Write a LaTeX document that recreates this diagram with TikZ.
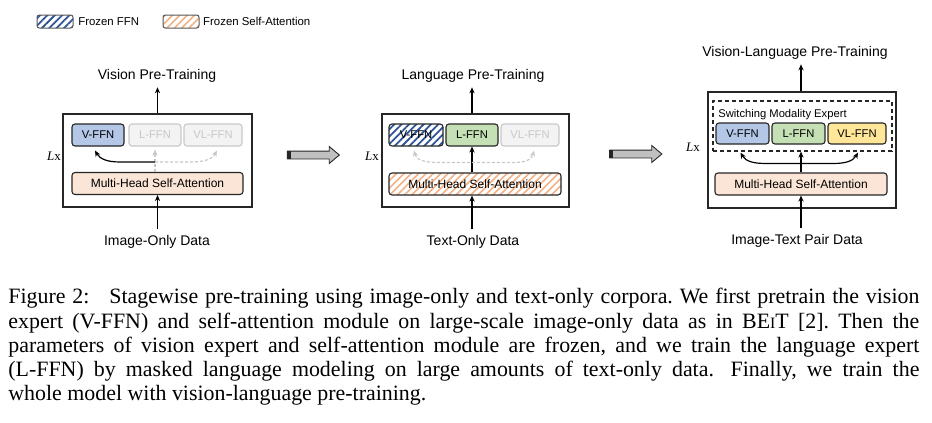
\documentclass[tikz,border=0pt]{standalone}
\usepackage{fontspec}
\setmainfont{Liberation Serif}
\setsansfont{Liberation Sans}
\usepackage{xcolor}
\usepackage{tikz}
\usetikzlibrary{positioning, calc, arrows.meta, shapes.arrows, patterns.meta}
\definecolor{vblue}{RGB}{180, 199, 231}
\definecolor{lgreen}{RGB}{197, 224, 180}
\definecolor{vlyellow}{RGB}{255, 230, 153}
\definecolor{attnpeach}{RGB}{251, 229, 214}
\definecolor{frzblue}{RGB}{47, 85, 151}
\definecolor{frzorange}{RGB}{244, 177, 131}
\definecolor{offgray}{RGB}{200, 200, 200}
\definecolor{offfill}{RGB}{243, 243, 243}
\definecolor{edgedark}{RGB}{38, 38, 38}
\definecolor{stagegray}{RGB}{192, 192, 192}
\newcommand{\capline}[1]{\makebox[455.5pt][s]{#1}}

\begin{document}
\begin{tikzpicture}[
                x=0.5pt, y=-0.5pt,
                % --- STYLES ---
                % FFN box (active)
                ffnnode/.style={
                    draw=edgedark, line width=0.55pt, rounded corners=1.5pt,
                    minimum height=11pt, inner sep=0pt,
                    font=\fontsize{5.6}{6}\selectfont\sffamily
                },
                % FFN box (not used in this stage)
                offnode/.style={
                    ffnnode, draw=offgray, fill=offfill, text=offgray
                },
                % Self-attention box
                attnnode/.style={
                    ffnnode, fill=attnpeach, font=\fontsize{6}{7}\selectfont\sffamily
                },
                % Frozen hatching
                frzffn/.style={
                    fill=white, pattern={Lines[angle=45, distance=2.6pt, line width=0.9pt]},
                    pattern color=frzblue
                },
                frzattn/.style={
                    fill=white, pattern={Lines[angle=45, distance=2.6pt, line width=0.8pt]},
                    pattern color=frzorange
                },
                legendbox/.style={
                    draw=black!65, line width=0.5pt, rounded corners=1.2pt,
                    minimum width=18pt, minimum height=6.5pt, inner sep=0pt
                },
                legtext/.style={inner sep=0pt, font=\fontsize{5.7}{6}\selectfont\sffamily},
                framebox/.style={draw=edgedark, line width=0.7pt, inner sep=0pt},
                expertbox/.style={draw=edgedark, line width=0.6pt, dash pattern=on 2pt off 1.5pt, inner sep=0pt},
                swtext/.style={inner sep=0pt, font=\fontsize{5.6}{6}\selectfont\sffamily},
                titlenode/.style={inner sep=2.5pt, font=\fontsize{7}{8}\selectfont\sffamily},
                datanode/.style={inner sep=2.5pt, font=\fontsize{7}{8}\selectfont\sffamily},
                lxnode/.style={inner sep=0pt, font=\fontsize{6.5}{7}\selectfont},
                % Arrows
                flowarrow/.style={-{Stealth[length=3pt, width=2.6pt]}, line width=0.6pt, black},
                dasharrow/.style={flowarrow, offgray, dash pattern=on 1.5pt off 1pt},
                stagearrow/.style={
                    single arrow, draw=edgedark, fill=stagegray, line width=0.45pt,
                    minimum height=26pt, minimum width=8pt, inner xsep=0pt, inner ysep=1.75pt,
                    single arrow head extend=2.25pt, single arrow tip angle=80
                },
                capnode/.style={inner sep=0pt, align=left, font=\fontsize{10.95}{12.1}\selectfont\frenchspacing}
            ]

                \useasboundingbox[fill=white] (0,0) rectangle (932,423);

                % --- LEGEND ---
                \node[legendbox, frzffn] (legFFN) at (55,21.5) {};
                \node[legtext, right=2pt of legFFN] (legFFNtext) {Frozen FFN};
                \node[legendbox, frzattn] (legAttn) at (181,21.5) {};
                \node[legtext, right=1.5pt of legAttn] (legAttntext) {Frozen Self-Attention};

                % --- STAGE 1: VISION ---
                \node[framebox, minimum width=94.5pt, minimum height=46.5pt] (frameA) at (157.5,160.5) {};
                \node[ffnnode, fill=vblue, minimum width=26pt] (vffnA) at (98,135) {V-FFN};
                \node[offnode, minimum width=26pt] (lffnA) at (155,135) {L-FFN};
                \node[offnode, minimum width=29pt] (vlffnA) at (213,135) {VL-FFN};
                \node[attnnode, minimum width=85.5pt] (mhsaA) at (157.5,183.5) {Multi-Head Self-Attention};
                \node[lxnode] (lxA) at (54,156) {\textit{L}x};
                \node[titlenode, anchor=base] (titleA) at (157,79) {Vision Pre-Training};
                \node[datanode, anchor=base] (dataA) at (157,245) {Image-Only Data};

                \draw[flowarrow] (mhsaA.north |- frameA.north) -- (mhsaA.north |- titleA.south);
                \draw[flowarrow] (dataA.north -| mhsaA) -- (mhsaA.south);
                \coordinate (forkA) at ($(lffnA.south |- mhsaA.north)+(0,-10)$);
                \draw[dasharrow] (lffnA.south |- mhsaA.north) -- ([yshift=-1.5pt]lffnA.south);
                \draw[flowarrow] (forkA) -- ++(-36,0) to[out=180, in=-60] ([xshift=-1.5pt, yshift=-2pt]vffnA.south);
                \draw[dasharrow] (forkA) -- ++(36,0) to[out=0, in=-120] ([xshift=2pt, yshift=-2pt]vlffnA.south);

                % --- STAGE 2: LANGUAGE ---
                \node[framebox, minimum width=93.5pt, minimum height=46.5pt] (frameB) at (475.5,160.5) {};
                \node[ffnnode, frzffn, minimum width=27pt] (vffnB) at (416,135) {V-FFN};
                \node[ffnnode, fill=lgreen, minimum width=26pt] (lffnB) at (472,135) {L-FFN};
                \node[offnode, minimum width=29pt] (vlffnB) at (530,135) {VL-FFN};
                \node[attnnode, frzattn, minimum width=86pt] (mhsaB) at (475,184) {Multi-Head Self-Attention};
                \node[lxnode] (lxB) at (372,156) {\textit{L}x};
                \node[titlenode, anchor=base] (titleB) at (473,79) {Language Pre-Training};
                \node[datanode, anchor=base] (dataB) at (473,245) {Text-Only Data};

                \draw[flowarrow] (lffnB.north |- frameB.north) -- (lffnB.north |- titleB.south);
                \draw[flowarrow] (dataB.north -| lffnB) -- (lffnB |- mhsaB.south);
                \draw[flowarrow] (lffnB.south |- mhsaB.north) -- (lffnB.south);
                \draw[dasharrow, {Stealth[length=3pt, width=2.6pt]}-{Stealth[length=3pt, width=2.6pt]}]
                    ([xshift=-1pt, yshift=-2pt]vffnB.south) to[out=-75, in=180] ([yshift=-8pt]lffnB.south -| vffnB.east)
                    -- ([yshift=-8pt]lffnB.south -| vlffnB.west) to[out=0, in=-105] ([xshift=2pt, yshift=-2pt]vlffnB.south);

                % --- STAGE 3: VISION-LANGUAGE ---
                \node[framebox, minimum width=94pt, minimum height=58pt] (frameC) at (802,150) {};
                \node[expertbox, minimum width=89.5pt, minimum height=25pt] (expC) at (802.5,126) {};
                \node[swtext, anchor=base west] (swC) at (718,117) {Switching Modality Expert};
                \node[ffnnode, fill=vblue, minimum width=26.5pt, minimum height=10.5pt] (vffnC) at (742.5,133.5) {V-FFN};
                \node[ffnnode, fill=lgreen, minimum width=26.5pt, minimum height=10.5pt] (lffnC) at (798.5,133.5) {L-FFN};
                \node[ffnnode, fill=vlyellow, minimum width=29pt, minimum height=10.5pt] (vlffnC) at (857,133.5) {VL-FFN};
                \node[attnnode, minimum width=86pt] (mhsaC) at (801,184) {Multi-Head Self-Attention};
                \node[lxnode] (lxC) at (693,147) {\textit{L}x};
                \node[titlenode, anchor=base] (titleC) at (795,56) {Vision-Language Pre-Training};
                \node[datanode, anchor=base] (dataC) at (797,244) {Image-Text Pair Data};

                \draw[flowarrow] (mhsaC.north |- frameC.north) -- (mhsaC.north |- titleC.south);
                \draw[flowarrow] (dataC.north -| mhsaC) -- (mhsaC.south);
                \coordinate (forkC) at ($(mhsaC.north)+(0,-9)$);
                \draw[flowarrow] (mhsaC.north) -- (mhsaC.north |- expC.south);
                \draw[flowarrow] (forkC) -- ++(-36,0) to[out=180, in=-60] ($(vffnC.south |- expC.south)+(-2,1)$);
                \draw[flowarrow] (forkC) -- ++(33,0) to[out=0, in=-120] ($(vlffnC.south |- expC.south)+(1,1)$);

                % --- STAGE ARROWS ---
                \node[stagearrow] (stageAB) at (311,155) {};
                \fill[edgedark] (stageAB.before tail) rectangle ([xshift=2pt]stageAB.after tail);
                \node[stagearrow] (stageBC) at (633.5,154) {};
                \fill[edgedark] (stageBC.before tail) rectangle ([xshift=2pt]stageBC.after tail);

                % --- CAPTION ---
                \node[capnode, anchor=north west] (caption) at (8,288) {%
                    \capline{Figure 2:\hspace{0.6em} Stagewise pre-training using image-only and text-only corpora. We first pretrain the vision}\\
                    \capline{expert (V-FFN) and self-attention module on large-scale image-only data as in BE{\fontsize{7.9}{8}\selectfont I}T [2]. Then the}\\
                    \capline{parameters of vision expert and self-attention module are frozen, and we train the language expert}\\
                    \capline{(L-FFN) by masked language modeling on large amounts of text-only data.\hspace{0.3em} Finally, we train the}\\
                    whole model with vision-language pre-training.};

            \end{tikzpicture}
\end{document}
